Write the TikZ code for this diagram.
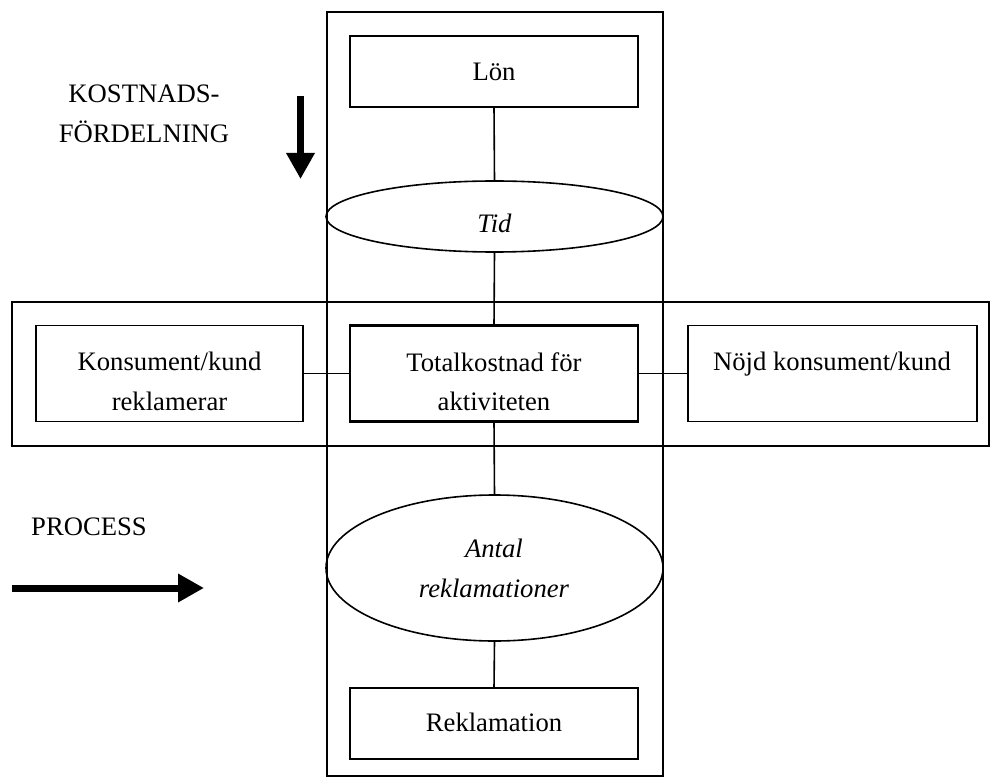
\documentclass[tikz,border=0pt]{standalone}
\usepackage{fontspec}
\setmainfont{Liberation Serif}
\usetikzlibrary{arrows.meta,shapes.geometric}

\tikzset{
  frame/.style={draw, line width=1.2pt},
  box/.style={draw, rectangle, line width=1.2pt, inner sep=0pt, outer sep=0pt},
  mainbox/.style={box, line width=2pt},
  oval/.style={draw, ellipse, line width=1.2pt, inner sep=0pt, outer sep=0pt,
    minimum width=252.75pt},
  txt/.style={anchor=base, inner sep=0pt, outer sep=0pt,
    font=\fontsize{20}{24}\selectfont},
  itxt/.style={txt, font=\fontsize{20}{24}\selectfont\itshape},
  link/.style={line width=1.2pt},
  bigarrow/.style={line width=5.25pt, -{Triangle[length=19.5pt,width=20.25pt]}}
}

\begin{document}
\begin{tikzpicture}[x=0.75pt,y=-0.75pt]
\useasboundingbox (0,0) rectangle (991,780);

% the two crossing frames
\draw[frame] (327,12) rectangle (663,776);
\draw[frame] (12,302) rectangle (989,446);

% boxes and ovals
\node[box, minimum width=216pt, minimum height=53.25pt] (lon) at (494,71.5) {};
\node[oval, minimum height=53.25pt] (tid) at (494.5,216.5) {};
\node[mainbox, minimum width=216pt, minimum height=72pt] (total) at (494,373.5) {};
\node[box, minimum width=200.25pt, minimum height=72pt] (konsument) at (169.5,373.5) {};
\node[box, minimum width=216.75pt, minimum height=72pt] (nojd) at (832.5,373.5) {};
\node[oval, minimum height=109.5pt] (antal) at (494.5,568) {};
\node[box, minimum width=216pt, minimum height=53.25pt] (rekl) at (494,723.5) {};

% texts
\node[txt] (lon-t) at (494,81) {Lön};
\node[itxt] (tid-t) at (494.5,233) {Tid};
\node[txt] (total-t1) at (494,371) {Totalkostnad för};
\node[txt] (total-t2) at (494,410) {aktiviteten};
\node[txt] (kons-t1) at (169.5,370) {Konsument/kund};
\node[txt] (kons-t2) at (169.5,410) {reklamerar};
\node[txt] (nojd-t) at (832,370) {Nöjd konsument/kund};
\node[itxt] (antal-t1) at (494,557) {Antal};
\node[itxt] (antal-t2) at (494,597) {reklamationer};
\node[txt] (rekl-t) at (494,731) {Reklamation};
\node[txt] (kf-t1) at (144,103) {KOSTNADS-};
\node[txt] (kf-t2) at (144,143) {FÖRDELNING};
\node[txt] (proc-t) at (89,535) {PROCESS};

% connectors
\draw[link] (lon.south) -- (tid.north);
\draw[link] (tid.south) -- (total.north);
\draw[link] (konsument.east) -- (total.west);
\draw[link] (total.east) -- (nojd.west);
\draw[link] (total.south) -- (antal.north);
\draw[link] (antal.south) -- (rekl.north);

% direction arrows
\coordinate (kf-start) at (300.5,96);
\coordinate (kf-end) at (300.5,179);
\draw[bigarrow] (kf-start) -- (kf-end);
\coordinate (pr-start) at (12,588);
\coordinate (pr-end) at (204,588);
\draw[bigarrow] (pr-start) -- (pr-end);
\end{tikzpicture}
\end{document}
